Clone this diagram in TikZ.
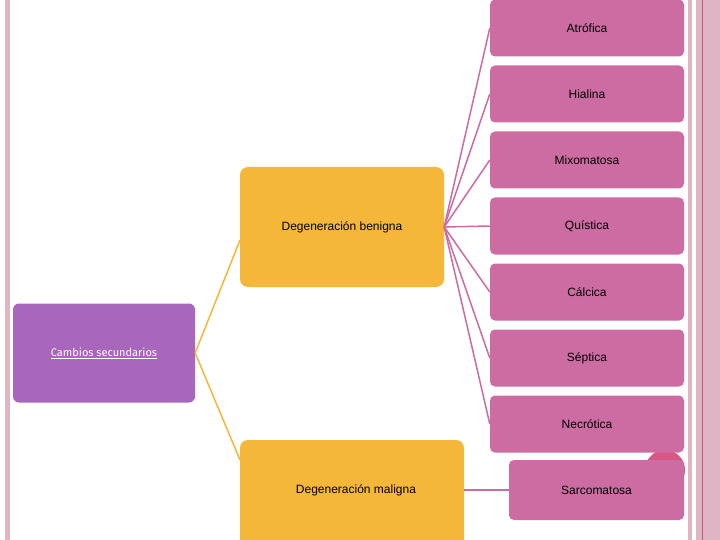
\documentclass[tikz,border=0pt]{standalone}
\usepackage{fontspec}
\setmainfont{Liberation Sans}
\newfontfamily\cfont{Fira Sans}
\definecolor{pk}{HTML}{CD6BA3}
\definecolor{og}{HTML}{F5B73A}
\definecolor{pu}{HTML}{A866BC}
\definecolor{st}{HTML}{DDB5C4}
\begin{document}
\begin{tikzpicture}[x=1pt,y=-1pt,
  pbox/.style={fill=pk,rounded corners=5pt,minimum width=194pt,minimum height=57pt,inner sep=0pt,font=\fontsize{12}{14}\selectfont},
  obox/.style={fill=og,rounded corners=8pt,inner sep=0pt,font=\fontsize{12}{14}\selectfont},
  pline/.style={draw=pk,line width=1.5pt},
  oline/.style={draw=og,line width=1.5pt}]
\useasboundingbox (0,0) rectangle (720,540);
\fill[st] (5,0) rectangle (10,540);
\fill[st] (688,0) rectangle (692,540);
\fill[st] (696,0) rectangle (720,540);
\draw[pk!70!red,line width=0.6pt] (702,0) -- (702,540);
\fill[pk!80!red] (665,470) circle (20pt);
\node[obox,minimum width=204pt,minimum height=120pt] (ben) at (342,227) {};
\node[font=\fontsize{12}{14}\selectfont] (bent) at (342,227) {Degeneración benigna};
\node[obox,minimum width=224pt,minimum height=110pt] (mal) at (352,495) {};
\node[font=\fontsize{12}{14}\selectfont] (malt) at (356,490) {Degeneración maligna};
\node[fill=pu,rounded corners=6pt,minimum width=182pt,minimum height=99pt,inner sep=0pt] (cam) at (104,353) {};
\node[text=white,font=\cfont\fontsize{11}{13}\selectfont] (camt) at (104,353) {\underline{Cambios secundarios}};
\coordinate (bl) at (240,240);
\coordinate (ml) at (240,460);
\draw[oline] (cam.east) -- (bl);
\draw[oline] (cam.east) -- (ml);
\foreach \n/\t/\y in {a/Atrófica/28,b/Hialina/94,c/Mixomatosa/160,d/Quística/226,e/Cálcica/292,f/Séptica/358,g/Necrótica/424}{
  \node[pbox] (\n) at (587,\y) {\t};
  \draw[pline] (ben.east) -- (\n.west);
}
\node[pbox,minimum width=175pt,minimum height=60pt] (s) at (596.5,490) {Sarcomatosa};
\draw[pline] (mal.east |- s.west) -- (s.west);
\end{tikzpicture}
\end{document}
